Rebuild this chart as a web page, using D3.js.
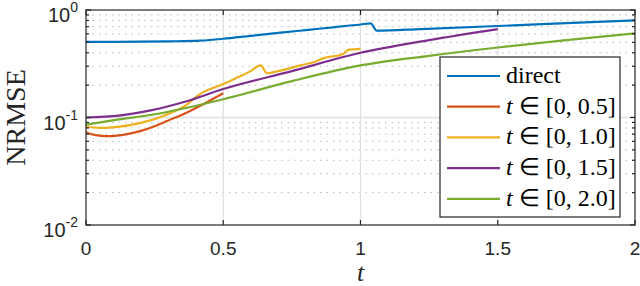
<!DOCTYPE html>
<html>
<head>
<meta charset="utf-8">
<script src="https://cdn.jsdelivr.net/npm/d3@7"></script>
<style>
  body { margin: 0; background: #fff; }
</style>
</head>
<body>
<div id="body"></div>
<script>
var margin = { top: 10, right: 5, bottom: 61, left: 86 };
var width = 640 - margin.left - margin.right;
var height = 286 - margin.top - margin.bottom;

// data
var tDirect = [0, 0.1, 0.2, 0.3, 0.415, 0.5, 0.6, 0.7, 0.8, 0.9, 1.0, 1.037, 1.059, 1.22, 1.5, 1.75, 2.0];
var direct = [0.505, 0.505, 0.507, 0.511, 0.518, 0.54, 0.575, 0.612, 0.65, 0.69, 0.733, 0.752, 0.642, 0.665, 0.71, 0.755, 0.80];

var tA = [0, 0.03, 0.08, 0.15, 0.2, 0.25, 0.3, 0.36, 0.42, 0.46, 0.5];
var seriesA = [0.073, 0.069, 0.067, 0.070, 0.075, 0.083, 0.094, 0.109, 0.13, 0.148, 0.168];

var tB = [0, 0.05, 0.1, 0.2, 0.3, 0.36, 0.415, 0.5, 0.55, 0.6, 0.636, 0.66, 0.7, 0.78, 0.834, 0.863, 0.937, 0.955, 1.0];
var seriesB = [0.082, 0.080, 0.081, 0.089, 0.108, 0.128, 0.165, 0.205, 0.235, 0.27, 0.305, 0.258, 0.27, 0.305, 0.33, 0.355, 0.39, 0.425, 0.434];

var tC = [0, 0.12, 0.24, 0.36, 0.5, 0.75, 1.0, 1.25, 1.5];
var seriesC = [0.100, 0.104, 0.117, 0.140, 0.184, 0.27, 0.40, 0.525, 0.665];

var tD = [0, 0.12, 0.24, 0.36, 0.5, 0.75, 1.0, 1.25, 1.5, 1.75, 2.0];
var seriesD = [0.086, 0.096, 0.106, 0.122, 0.148, 0.218, 0.305, 0.375, 0.448, 0.525, 0.607];

var legendRanges = ["", "0.5", "1.0", "1.5", "2.0"];
var colors = ["#0072BD", "#D95319", "#EDB120", "#7E2F8E", "#77AC30"];
var xTicks = [0, 0.5, 1, 1.5, 2];
var xTickLabels = ["0", "0.5", "1", "1.5", "2"];
var yTicks = [1e-2, 1e-1, 1];
var yTickExps = ["-2", "-1", "0"];

var series = [
  { t: tDirect, v: direct },
  { t: tA, v: seriesA },
  { t: tB, v: seriesB },
  { t: tC, v: seriesC },
  { t: tD, v: seriesD }
];

var axisColor = "#262626";

var svg = d3.select("#body")
  .append("svg")
  .attr("width", width + margin.left + margin.right)
  .attr("height", height + margin.top + margin.bottom)
  .append("g")
  .attr("transform", "translate(" + margin.left + "," + margin.top + ")");

var x = d3.scaleLinear().domain([0, 2]).range([0, width]);
var y = d3.scaleLog().domain([1e-2, 1]).range([height, 0]);

// minor ticks 2..9 in each decade
var minor = [];
[1e-2, 1e-1].forEach(function(d) {
  for (var k = 2; k <= 9; k++) minor.push(d * k);
});

// grid
svg.append("g")
  .selectAll("line")
  .data(minor)
  .enter().append("line")
  .attr("x1", 0).attr("x2", width)
  .attr("y1", function(d) { return y(d); })
  .attr("y2", function(d) { return y(d); })
  .attr("stroke", "#b8b8b8")
  .attr("stroke-width", 1)
  .attr("stroke-dasharray", "1.5,5");

svg.append("g")
  .selectAll("line")
  .data([1e-1])
  .enter().append("line")
  .attr("x1", 0).attr("x2", width)
  .attr("y1", function(d) { return y(d); })
  .attr("y2", function(d) { return y(d); })
  .attr("stroke", "#e0e0e0")
  .attr("stroke-width", 1.3);

svg.append("g")
  .selectAll("line")
  .data(xTicks.slice(1, -1))
  .enter().append("line")
  .attr("x1", function(d) { return x(d); })
  .attr("x2", function(d) { return x(d); })
  .attr("y1", 0).attr("y2", height)
  .attr("stroke", "#e0e0e0")
  .attr("stroke-width", 1.3);

// lines
var line = d3.line()
  .x(function(d) { return x(d[0]); })
  .y(function(d) { return y(d[1]); })
  .curve(d3.curveMonotoneX);

svg.append("g")
  .selectAll("path")
  .data(series)
  .enter().append("path")
  .attr("fill", "none")
  .attr("stroke", function(d, i) { return colors[i]; })
  .attr("stroke-width", 2.2)
  .attr("stroke-linejoin", "round")
  .attr("d", function(d) { return line(d.t.map(function(t, i) { return [t, d.v[i]]; })); });

// box
svg.append("rect")
  .attr("width", width).attr("height", height)
  .attr("fill", "none")
  .attr("stroke", axisColor)
  .attr("stroke-width", 1.2);

// ticks
var ticks = svg.append("g").attr("stroke", axisColor).attr("stroke-width", 1.2);
xTicks.forEach(function(d) {
  ticks.append("line").attr("x1", x(d)).attr("x2", x(d)).attr("y1", height).attr("y2", height - 5);
  ticks.append("line").attr("x1", x(d)).attr("x2", x(d)).attr("y1", 0).attr("y2", 5);
});
yTicks.forEach(function(d) {
  ticks.append("line").attr("x1", 0).attr("x2", 5).attr("y1", y(d)).attr("y2", y(d));
  ticks.append("line").attr("x1", width).attr("x2", width - 5).attr("y1", y(d)).attr("y2", y(d));
});
minor.forEach(function(d) {
  ticks.append("line").attr("x1", 0).attr("x2", 3).attr("y1", y(d)).attr("y2", y(d));
  ticks.append("line").attr("x1", width).attr("x2", width - 3).attr("y1", y(d)).attr("y2", y(d));
});

// tick labels
svg.append("g")
  .attr("font-family", "'Liberation Sans', Arial, sans-serif")
  .attr("font-size", 19)
  .attr("fill", axisColor)
  .attr("text-anchor", "middle")
  .selectAll("text")
  .data(xTicks)
  .enter().append("text")
  .attr("x", function(d) { return x(d); })
  .attr("y", height + 30)
  .text(function(d, i) { return xTickLabels[i]; });

var yLab = svg.append("g")
  .attr("font-family", "'Liberation Sans', Arial, sans-serif")
  .attr("fill", axisColor)
  .attr("text-anchor", "end")
  .selectAll("text")
  .data(yTicks)
  .enter().append("text")
  .attr("x", -8)
  .attr("y", function(d) { return y(d) + 12; })
  .attr("font-size", 20);
yLab.append("tspan").text("10");
yLab.append("tspan")
  .attr("dy", -10)
  .attr("font-size", 14)
  .text(function(d, i) { return yTickExps[i]; });

// axis titles
svg.append("text")
  .attr("transform", "translate(" + (-61) + "," + (height / 2) + ") rotate(-90)")
  .attr("text-anchor", "middle")
  .attr("font-family", "'Liberation Serif', serif")
  .attr("font-size", 28)
  .attr("fill", axisColor)
  .text("NRMSE");

svg.append("text")
  .attr("x", x(1))
  .attr("y", height + 56)
  .attr("text-anchor", "middle")
  .attr("font-family", "'Liberation Serif', serif")
  .attr("font-style", "italic")
  .attr("font-size", 26)
  .attr("fill", axisColor)
  .text("t");

// legend
var legend = svg.append("g")
  .attr("transform", "translate(" + (440 - margin.left) + "," + (57 - margin.top) + ")");

legend.append("rect")
  .attr("width", 180).attr("height", 160)
  .attr("fill", "#fff")
  .attr("stroke", axisColor)
  .attr("stroke-width", 1.2);

var item = legend.selectAll("g.item")
  .data(series)
  .enter().append("g")
  .attr("class", "item")
  .attr("transform", function(d, i) { return "translate(0," + (19 + i * 30.7) + ")"; });

item.append("line")
  .attr("x1", 7).attr("x2", 60)
  .attr("stroke", function(d, i) { return colors[i]; })
  .attr("stroke-width", 2.2);

var label = item.append("text")
  .attr("x", 66)
  .attr("y", 7)
  .attr("font-family", "'Liberation Serif', serif")
  .attr("font-size", 24)
  .attr("fill", "#000");

label.each(function(d, i) {
  var el = d3.select(this);
  if (i === 0) {
    el.text("direct");
  } else {
    el.append("tspan").attr("font-style", "italic").text("t");
    el.append("tspan").text(" \u2208 [0, " + legendRanges[i] + "]");
  }
});
</script>
</body>
</html>
